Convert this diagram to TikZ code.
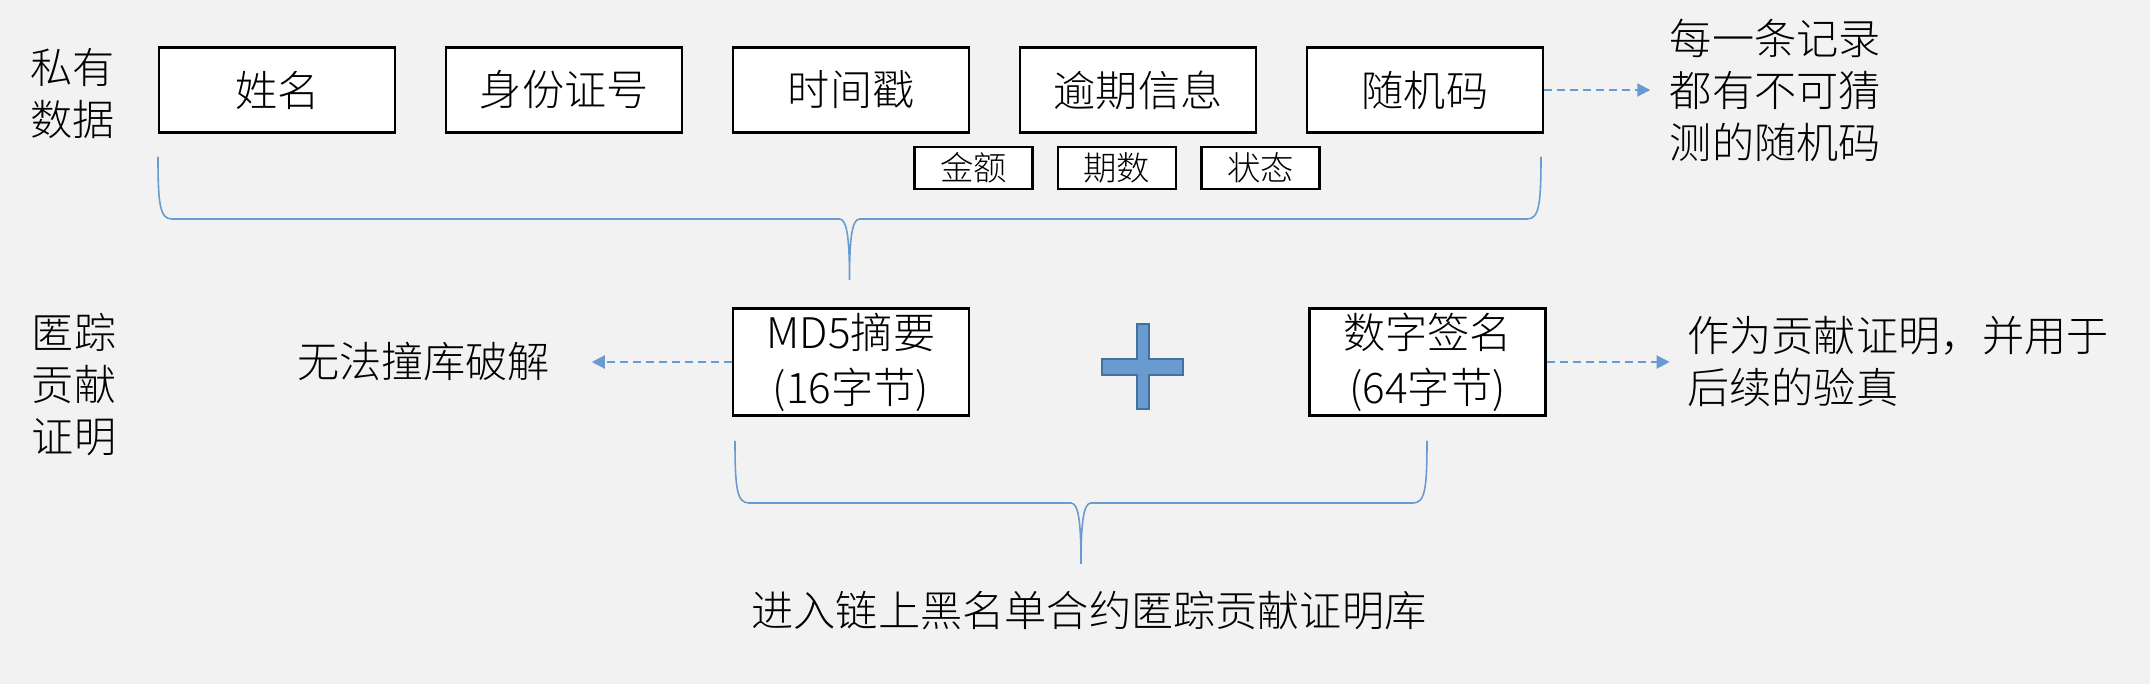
\documentclass[tikz,border=0pt]{standalone}
\usepackage{fontspec}
\setmainfont{Noto Sans CJK SC}[UprightFont={* Light}]
\usetikzlibrary{arrows.meta,positioning}
\definecolor{canvas}{HTML}{F2F2F2}
\definecolor{accent}{HTML}{6A9BD0}
\definecolor{accentdark}{HTML}{41719C}
% left x, right x, top y of a brace (picture units)
\newcommand{\groupbrace}[3]{%
  \pgfmathsetmacro{\bracemid}{(#1+#2)/2}
  \draw[grouping] (#1,#3) .. controls (#1,#3+48) and (#1+2,#3+62) .. (#1+14,#3+62)
    -- (\bracemid-10,#3+62) .. controls (\bracemid-2,#3+62) and (\bracemid,#3+85) .. (\bracemid,#3+123)
    .. controls (\bracemid,#3+85) and (\bracemid+2,#3+62) .. (\bracemid+10,#3+62)
    -- (#2-14,#3+62) .. controls (#2-2,#3+62) and (#2,#3+48) .. (#2,#3);
}
\tikzset{
  field/.style={draw=black,line width=0.7pt,fill=white,inner sep=0pt,
    minimum width=23.6mm,minimum height=8.5mm,align=center,
    font=\fontsize{12pt}{15.6pt}\selectfont},
  subfield/.style={field,minimum width=11.8mm,minimum height=4.2mm,
    font=\fontsize{9.5pt}{11pt}\selectfont},
  proof/.style={field,minimum height=10.7mm},
  remark/.style={inner sep=0pt,align=left,font=\fontsize{12pt}{14.8pt}\selectfont},
  pointer/.style={-{Triangle[length=1.3mm,width=1.3mm]},accent,line width=0.6pt,
    dash pattern=on 0.8mm off 0.5mm},
  grouping/.style={accent,line width=0.45pt},
  plussign/.style={fill=accent,draw=accentdark,line width=0.6pt}
}
\begin{document}
\begin{tikzpicture}[x=0.1mm,y=-0.1mm]
  \fill[canvas] (0,0) rectangle (2150,684);
  \node[remark] (priv) at (73,94) {私有\\数据};
  \node[field,anchor=west] (name) at (158,90) {姓名};
  \node[field] (id) [right=4.85mm of name] {身份证号};
  \node[field] (stamp) [right=4.85mm of id] {时间戳};
  \node[field] (overdue) [right=4.85mm of stamp] {逾期信息};
  \node[field] (rnd) [right=4.85mm of overdue] {随机码};
  \node[subfield] (amount) at (973.5,168) {金额};
  \node[subfield] (term) [right=2.3mm of amount] {期数};
  \node[subfield] (state) [right=2.3mm of term] {状态};
  \node[remark,anchor=west] (unique) [right=12.5mm of rnd] {每一条记录\\都有不可猜\\测的随机码};
  \groupbrace{158}{1541}{157}

  \node[remark] (anon) at (74,385) {匿踪\\贡献\\证明};
  \node[proof] (md5) at (851,362) {MD5摘要\\(16字节)};
  \node[proof] (sig) [right=33.8mm of md5] {数字签名\\(64字节)};
  \node[remark] (crack) [left=18.1mm of md5] {无法撞库破解};
  \node[remark] (usage) [right=14mm of sig] {作为贡献证明，并用于\\后续的验真};
  \filldraw[plussign] (1137,324) -- (1149,324) -- (1149,359) -- (1183,359) -- (1183,375)
    -- (1149,375) -- (1149,409) -- (1137,409) -- (1137,375) -- (1102,375) -- (1102,359)
    -- (1137,359) -- cycle;
  \groupbrace{735}{1427}{441}
  \node[remark] (store) at (1089,611) {进入链上黑名单合约匿踪贡献证明库};

  \draw[pointer,shorten >=1.9mm] (rnd.east) -- (rnd.east -| unique.west);
  \draw[pointer,shorten >=4.1mm] (md5.west) -- (md5.west -| crack.east);
  \draw[pointer,shorten >=1.7mm] (sig.east) -- (sig.east -| usage.west);
\end{tikzpicture}
\end{document}
